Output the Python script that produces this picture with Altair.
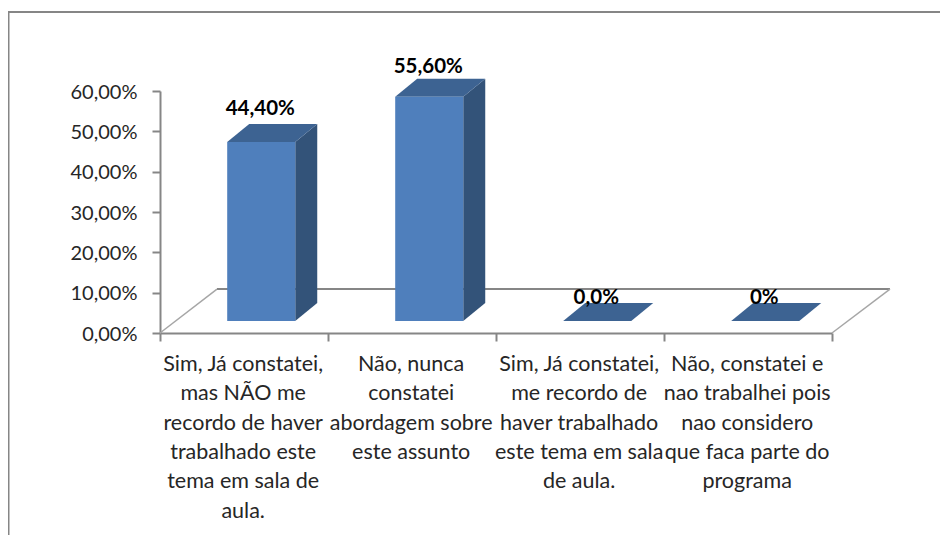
import altair as alt
import pandas as pd

categories = [
    "Sim, Já constatei,\nmas NÃO me\nrecordo de haver\ntrabalhado este\ntema em sala de\naula.",
    "Não, nunca\nconstatei\nabordagem sobre\neste assunto",
    "Sim, Já constatei,\nme recordo de\nhaver trabalhado\neste tema em sala\nde aula.",
    "Não,  constatei e\nnao trabalhei pois\nnao considero\nque faca parte do\nprograma",
]
values = [44.4, 55.6, 0.0, 0.0]
value_labels = ["44,40%", "55,60%", "0,0%", "0%"]
label_lift = [11.1, 10.35, 8.67, 8.67]
y_ticks = [0, 10, 20, 30, 40, 50, 60]
x_ticks = [0, 1, 2, 3, 4]

FONT = "Lato"
AXIS = "#868686"
BASE = 2.98
DX = 22 / 168
DY = 4.46
LEFT = 0.40
RIGHT = 0.805
BACK = 10.9

x_scale = alt.Scale(domain=[0, 4], nice=False, zero=False)
y_scale = alt.Scale(domain=[0, 60], nice=False, zero=False)

front_rows, top_rows, side_rows, label_rows, cat_rows = [], [], [], [], []
for i, v in enumerate(values):
    l, r = i + LEFT, i + RIGHT
    t = BASE + v
    front_rows.append(dict(x=l, x2=r, y=t, y2=BASE))
    stops = [(l, t, t), (l + DX, t, t + DY), (r, t, t + DY), (r + DX, t + DY, t + DY)]
    for k, (sx, lo, hi) in enumerate(stops):
        top_rows.append(dict(bar=i, x=sx, hi=hi, lo=lo))
    if v > 0:
        side_rows.append(dict(bar=i, x=r, hi=t, lo=BASE))
        side_rows.append(dict(bar=i, x=r + DX, hi=t + DY, lo=BASE + DY))
    label_rows.append(dict(x=i + 0.597, y=v + label_lift[i], t=value_labels[i]))
    cat_rows.append(dict(x=i + 0.495, t=categories[i]))


def X(**kw):
    return alt.X("x:Q", scale=x_scale, title=None, **kw)


def Y(**kw):
    return alt.Y("y:Q", scale=y_scale, title=None, **kw)


frame = (
    alt.Chart(pd.DataFrame({"px": [-151.5]}))
    .mark_rule(color=AXIS, strokeWidth=2)
    .encode(x=alt.X("px:Q", scale=None, axis=None), y=alt.value(-79), y2=alt.value(444))
)
frame_top = (
    alt.Chart(pd.DataFrame({"py": [-79]}))
    .mark_rule(color=AXIS, strokeWidth=2)
    .encode(y=alt.Y("py:Q", scale=None, axis=None), x=alt.value(-152), x2=alt.value(780))
)

axes = (
    alt.Chart(pd.DataFrame({"x": x_ticks, "y": [0, 0, 0, 0, 60]}))
    .mark_point(opacity=0)
    .encode(
        x=X(
            axis=alt.Axis(
                values=x_ticks, labels=False, ticks=True, tickSize=8, tickWidth=2, tickColor=AXIS,
                domainColor=AXIS, domainWidth=2, grid=False, title=None,
            )
        ),
        y=Y(
            axis=alt.Axis(
                values=y_ticks, tickSize=8, tickWidth=2, tickColor=AXIS, domainColor=AXIS, domainWidth=2,
                grid=False, title=None, labelFont=FONT, labelFontSize=20, labelColor="#262626",
                labelPadding=15, labelOffset=1, labelExpr="replace(format(datum.value / 100, '.2%'), '.', ',')",
            )
        ),
    )
)

floor_back = (
    alt.Chart(pd.DataFrame([dict(x=57 / 168, x2=4 + 58 / 168, y=BACK)]))
    .mark_rule(color=AXIS, strokeWidth=2)
    .encode(x=X(), x2="x2:Q", y=Y())
)
floor_sides = (
    alt.Chart(
        pd.DataFrame(
            [
                dict(s=0, x=0, y=0),
                dict(s=0, x=57 / 168, y=BACK),
                dict(s=1, x=4, y=0),
                dict(s=1, x=4 + 58 / 168, y=BACK),
            ]
        )
    )
    .mark_line(color="#a6a6a6", strokeWidth=1.5)
    .encode(x=X(), y=Y(), detail="s:N")
)

side = (
    alt.Chart(pd.DataFrame(side_rows))
    .mark_area(color="#335379")
    .encode(x=X(), y=alt.Y("hi:Q", scale=y_scale, title=None, stack=None), y2="lo:Q", detail="bar:N")
)
top = (
    alt.Chart(pd.DataFrame(top_rows))
    .mark_area(color="#3D6392")
    .encode(x=X(), y=alt.Y("hi:Q", scale=y_scale, title=None, stack=None), y2="lo:Q", detail="bar:N")
)
front = (
    alt.Chart(pd.DataFrame(front_rows))
    .mark_rect(color="#4F7FBC")
    .encode(x=X(), x2="x2:Q", y=Y(), y2="y2:Q")
)
bar_labels = (
    alt.Chart(pd.DataFrame(label_rows))
    .mark_text(font=FONT, fontSize=20.5, fontWeight="bold", color="#000000", baseline="middle")
    .encode(x=X(), y=Y(), text="t:N")
)
cat_labels = (
    alt.Chart(pd.DataFrame(cat_rows))
    .mark_text(font=FONT, fontSize=21.5, color="#262626", baseline="top", align="center", lineBreak="\n", lineHeight=29.3)
    .encode(x=X(), y=alt.value(263), text="t:N")
)

chart = (
    alt.layer(axes, floor_back, floor_sides, side, top, front, bar_labels, cat_labels, frame, frame_top)
    .resolve_scale(x="shared", y="shared")
    .properties(
        width=672,
        height=242,
        padding={"left": 152, "top": 83, "right": 108, "bottom": 202},
        autosize=alt.AutoSizeParams(type="none"),
        background="#ffffff",
    )
    .configure_view(stroke=None)
)

chart.save("out.html", embed_options={"renderer": "svg", "actions": False})
